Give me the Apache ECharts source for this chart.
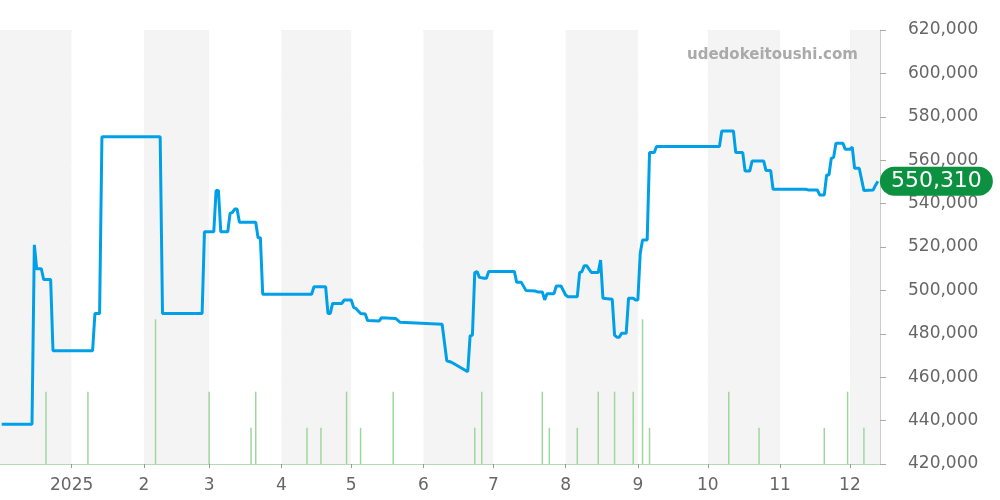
<!DOCTYPE html>
<html>
<head>
<meta charset="utf-8">
<script src="https://cdn.jsdelivr.net/npm/echarts@6/dist/echarts.min.js"></script>
<style>
html,body{margin:0;padding:0;background:#fff;}
#chart{width:1000px;height:500px;}
</style>
</head>
<body>
<div id="chart"></div>
<script>
const priceDates = [
'2024-12-02','2024-12-15','2024-12-16','2024-12-17','2024-12-19','2024-12-20','2024-12-23','2024-12-24',
'2025-01-10','2025-01-11','2025-01-13','2025-01-14','2025-02-08','2025-02-09','2025-02-26','2025-02-27',
'2025-03-03','2025-03-04','2025-03-05','2025-03-06','2025-03-09','2025-03-10','2025-03-11','2025-03-12',
'2025-03-13','2025-03-14','2025-03-21','2025-03-22','2025-03-23','2025-03-24','2025-04-14','2025-04-15',
'2025-04-20','2025-04-21','2025-04-22','2025-04-23','2025-04-27','2025-04-28','2025-05-01','2025-05-02',
'2025-05-03','2025-05-05','2025-05-07','2025-05-08','2025-05-13','2025-05-14','2025-05-20','2025-05-22',
'2025-06-09','2025-06-11','2025-06-13','2025-06-20','2025-06-21','2025-06-22','2025-06-23','2025-06-24',
'2025-06-25','2025-06-27','2025-06-28','2025-06-29','2025-07-10','2025-07-11','2025-07-13','2025-07-15',
'2025-07-19','2025-07-20','2025-07-22','2025-07-23','2025-07-24','2025-07-27','2025-07-28','2025-07-30',
'2025-08-01','2025-08-02','2025-08-06','2025-08-07','2025-08-08','2025-08-09','2025-08-10','2025-08-12',
'2025-08-15','2025-08-16','2025-08-17','2025-08-21','2025-08-22','2025-08-23','2025-08-24','2025-08-25',
'2025-08-27','2025-08-28','2025-08-30','2025-08-31','2025-09-01','2025-09-02','2025-09-03','2025-09-05',
'2025-09-06','2025-09-08','2025-09-09','2025-10-06','2025-10-07','2025-10-12','2025-10-13','2025-10-16',
'2025-10-17','2025-10-19','2025-10-20','2025-10-25','2025-10-26','2025-10-28','2025-10-29','2025-11-12',
'2025-11-13','2025-11-17','2025-11-18','2025-11-20','2025-11-21','2025-11-22','2025-11-23','2025-11-24',
'2025-11-25','2025-11-28','2025-11-29','2025-12-01','2025-12-02','2025-12-03','2025-12-05','2025-12-07',
'2025-12-11','2025-12-12','2025-12-13'
];
const priceValues = [
438300,438300,521000,510000,510000,505000,505000,472200,
472200,489400,489400,570800,570800,489400,489400,527000,
527000,546000,546000,527000,527000,535500,536000,537500,
537500,531400,531400,524300,524300,498200,498200,501700,
501700,489400,489400,494000,494000,495600,495600,492200,
491700,489400,489100,486100,485900,487400,487100,485300,
484400,467600,466900,462500,479000,479400,508200,508700,
506000,505600,505600,508700,508700,503700,503700,499900,
499700,499300,499300,495600,498500,498500,502000,502000,
497900,497100,497100,508200,508700,511400,511400,508300,
508300,514000,496400,495900,479400,478400,478400,480200,
480200,496400,496400,495600,495600,517000,523200,523200,
563500,563500,566300,566300,573500,573500,563500,563500,
555000,555000,559600,559600,555200,555200,546600,546600,
546300,546300,544000,544000,553200,553200,560900,561300,
567800,567800,565000,565000,566000,556300,556300,546000,
546300,548500,550310
];
const volumeDates = [
'2024-12-21','2025-01-08','2025-02-06','2025-03-01','2025-03-19','2025-03-21','2025-04-12','2025-04-18',
'2025-04-29','2025-05-05','2025-05-19','2025-06-23','2025-06-26','2025-07-22','2025-07-25','2025-08-06',
'2025-08-15','2025-08-22','2025-08-30','2025-09-03','2025-09-06','2025-10-10','2025-10-23','2025-11-20',
'2025-11-30','2025-12-07'
];
const volumeValues = [2,2,4,2,1,2,1,1,2,1,2,1,2,2,1,1,2,2,2,4,1,2,1,1,2,1];
const axisStart = '2024-12-01 14:00:00';
const axisEnd = '2025-12-13 14:00:00';
const yMin = 420000, yMax = 620000, yStep = 20000;
const watermark = 'udedokeitoushi.com';

const chart = echarts.init(document.getElementById('chart'));
const fmt = v => Math.round(v).toLocaleString('en-US');
const FONT = 'DejaVu Sans';
chart.setOption({
  animation: false,
  backgroundColor: '#ffffff',
  textStyle: {fontFamily: FONT},
  title: {
    text: watermark, left: 682, top: 43,
    textStyle: {fontFamily: FONT, fontSize: 15, fontWeight: 'bold', color: '#aaaaaa'}
  },
  grid: {left: 0, right: 120, top: 30, bottom: 36, containLabel: false},
  xAxis: {
    type: 'time', min: axisStart, max: axisEnd,
    splitNumber: 12,
    axisLine: {show: true, lineStyle: {color: '#a9d9a9', type: 'dotted', width: 1}},
    axisTick: {show: true, length: 4, lineStyle: {color: '#999'}},
    axisLabel: {
      color: '#666', fontSize: 17, margin: 13, fontFamily: FONT,
      showMinLabel: false, showMaxLabel: false,
      formatter: function (val) {
        const d = new Date(val);
        return d.getMonth() === 0 ? String(d.getFullYear()) : String(d.getMonth() + 1);
      }
    },
    splitLine: {show: false},
    splitArea: {show: true, areaStyle: {color: ['#f4f4f4', '#ffffff']}}
  },
  yAxis: [{
    type: 'value', position: 'right', min: yMin, max: yMax, interval: yStep,
    axisLine: {show: true, lineStyle: {color: '#cccccc'}},
    axisTick: {show: true, length: 6, lineStyle: {color: '#aaaaaa'}},
    axisLabel: {color: '#666', fontSize: 17, margin: 28, fontFamily: FONT, formatter: fmt},
    splitLine: {show: true, lineStyle: {color: '#e0e0e0'}}
  }, {
    type: 'value', position: 'right', min: 0, max: 12, show: false,
    splitLine: {show: false}
  }],
  series: [{
    type: 'bar', yAxisIndex: 1, barWidth: 1.5,
    itemStyle: {color: '#9fd69f'},
    data: volumeDates.map((d, i) => [d, volumeValues[i]]),
    z: 1
  }, {
    type: 'line', yAxisIndex: 0, showSymbol: false, symbol: 'none',
    lineStyle: {color: '#00a0e9', width: 3},
    data: priceDates.map((d, i) => [d, priceValues[i]]),
    endLabel: {
      show: true, distance: 2,
      formatter: p => fmt(p.value[1]),
      color: '#fff', fontSize: 22, fontFamily: FONT,
      backgroundColor: '#0b9140', borderRadius: 16,
      padding: [4, 11, 3, 11]
    },
    z: 3
  }]
});
</script>
</body>
</html>
